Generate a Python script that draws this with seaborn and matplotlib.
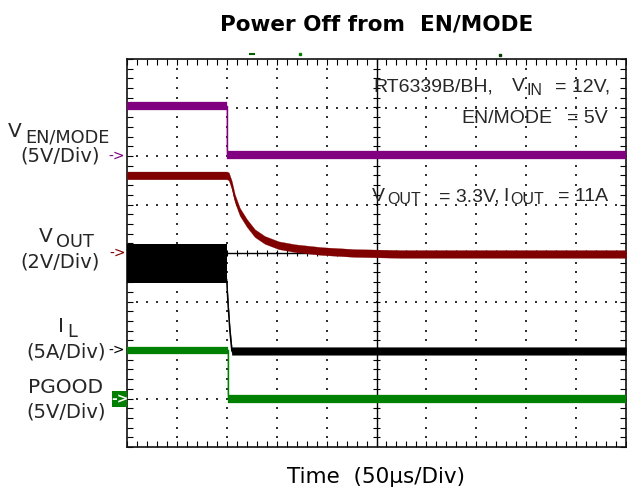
import numpy as np
import matplotlib
matplotlib.use("Agg")
import matplotlib.pyplot as plt
import seaborn as sns
from matplotlib.ticker import MultipleLocator
from matplotlib.patches import Rectangle

# ---------------- data (oscilloscope divisions) ----------------
en_t = [0.0, 2.0, 2.0, 10.0]
en_v = [7.03, 7.03, 6.02, 6.02]

vout_t = [0.0, 2.0, 2.04, 2.1, 2.16, 2.26, 2.4, 2.56, 2.76, 3.04, 3.36, 3.9, 4.56, 5.5, 10.0]
vout_v = [5.6, 5.6, 5.58, 5.40, 5.13, 4.85, 4.62, 4.41, 4.27, 4.16, 4.10, 4.04, 4.0, 3.98, 3.98]

il_ripple_t = [0.0, 2.0]
il_ripple_lo = [3.38, 3.38]
il_ripple_hi = [4.19, 4.19]
il_t = [2.0, 2.02, 2.06, 2.1, 10.0]
il_v = [3.4, 3.0, 2.4, 1.98, 1.98]

pg_t = [0.0, 2.02, 2.02, 10.0]
pg_v = [1.99, 1.99, 0.99, 0.99]

title = "Power Off from  EN/MODE"
xlabel = "Time  (50\u03bcs/Div)"

PURPLE = "#800080"
DARKRED = "#800000"
GREEN = "#008000"
BLACK = "#000000"

W, H = 627, 494
sns.set_theme(style="white")
plt.rcParams["font.family"] = ["DejaVu Sans"]

fig = plt.figure(figsize=(W / 100, H / 100), dpi=100)
ax = fig.add_axes([127 / W, 47 / H, 499 / W, 388 / H])
ax.set_xlim(0, 10)
ax.set_ylim(0, 8)


def FX(px):
    return px / W


def FY(py):
    return 1 - py / H


# ---------------- graticule ----------------
for s in ax.spines.values():
    s.set_color("#111111")
    s.set_linewidth(1.2)
ax.xaxis.set_major_locator(MultipleLocator(1))
ax.yaxis.set_major_locator(MultipleLocator(1))
ax.xaxis.set_minor_locator(MultipleLocator(0.2))
ax.yaxis.set_minor_locator(MultipleLocator(0.2))
ax.tick_params(which="both", direction="in", length=4, width=0.8, color="black",
               top=True, right=True, bottom=True, left=True,
               labelbottom=False, labelleft=False)
ax.set_xlabel("")
ax.set_ylabel("")

fine = np.arange(0.2, 10.0, 0.2)
finey = np.arange(0.2, 8.0, 0.2)
gx, gy = [], []
for x in range(1, 10):
    if x == 5:
        continue
    gx += [x] * len(finey)
    gy += list(finey)
for y in range(1, 8):
    if y == 4:
        continue
    gx += list(fine)
    gy += [y] * len(fine)
ax.scatter(gx, gy, s=1.2, marker="s", color="#333333", linewidths=0, zorder=1)

ax.axvline(5, color="black", lw=1, zorder=1)
ax.axhline(4, color="black", lw=1, zorder=1)
ax.vlines(fine, 4 - 0.07, 4 + 0.07, color="black", lw=0.8, zorder=1)
ax.hlines(finey, 5 - 0.07, 5 + 0.07, color="black", lw=0.8, zorder=1)

# ---------------- traces ----------------
HB = 0.08


def trace(t, v, color):
    t = np.asarray(t, float)
    v = np.asarray(v, float)
    sns.lineplot(x=t, y=v, sort=False, estimator=None, color=color, lw=1.0, ax=ax, zorder=3)
    ax.fill_between(t, v - HB, v + HB, color=color, lw=0.2, edgecolor=color, zorder=3)


trace(en_t, en_v, PURPLE)
trace(vout_t, vout_v, DARKRED)
ax.fill_between(il_ripple_t, il_ripple_lo, il_ripple_hi, color=BLACK, lw=0, zorder=3)
trace(il_t, il_v, BLACK)
trace(pg_t, pg_v, GREEN)

# small trigger markers above the frame
ax.plot([2.5], [8.1], marker="_", ms=4, mew=1.5, color="#006000", clip_on=False)
ax.plot([3.46], [8.1], marker="s", ms=1.5, color=GREEN, clip_on=False)
ax.plot([7.48], [8.08], marker="s", ms=2, color="#004000", clip_on=False)

# ---------------- texts ----------------
fig.text(FX(377), FY(30), title, ha="center", va="baseline", fontsize=15.5,
         fontweight="bold", color="black")
fig.text(FX(376), FY(483), xlabel, ha="center", va="baseline", fontsize=15.5, color="black")

# left channel labels
fig.text(FX(8), FY(137), "V", fontsize=14.5, va="baseline", ha="left")
fig.text(FX(25), FY(142), "EN/MODE", fontsize=12.8, va="baseline", ha="left")
fig.text(FX(60), FY(162), "(5V/Div)", fontsize=14, va="baseline", ha="center")

fig.text(FX(39), FY(242), "V", fontsize=14.5, va="baseline", ha="left")
fig.text(FX(56), FY(247), "OUT", fontsize=12.8, va="baseline", ha="left")
fig.text(FX(60), FY(267), "(2V/Div)", fontsize=14, va="baseline", ha="center")

fig.text(FX(58), FY(332), "I", fontsize=14.5, va="baseline", ha="left")
fig.text(FX(67.5), FY(337), "L", fontsize=12.8, va="baseline", ha="left")
fig.text(FX(66), FY(357), "(5A/Div)", fontsize=14, va="baseline", ha="center")

fig.text(FX(66), FY(393), "PGOOD", fontsize=14.5, va="baseline", ha="center")
fig.text(FX(66), FY(417), "(5V/Div)", fontsize=14, va="baseline", ha="center")

# channel reference arrows
fig.text(FX(117), FY(156), "->", fontsize=10, color=PURPLE, ha="center", va="center")
fig.text(FX(118), FY(253), "->", fontsize=10, color=DARKRED, ha="center", va="center")
fig.text(FX(117), FY(350), "->", fontsize=10, color=BLACK, ha="center", va="center")
fig.patches.append(Rectangle((FX(112), FY(407)), 15 / W, 16 / H, transform=fig.transFigure,
                             facecolor=GREEN, edgecolor="none", figure=fig))
fig.text(FX(119.5), FY(399), "->", fontsize=10, color="white", ha="center", va="center",
         fontweight="bold")

# in-plot annotations
AF = ["Liberation Sans", "DejaVu Sans"]
fig.text(FX(373), FY(91), "RT6339B/BH,", family=AF, fontsize=14, va="baseline", ha="left")
fig.text(FX(512), FY(91), "V", family=AF, fontsize=14, va="baseline", ha="left")
fig.text(FX(526), FY(95), "IN", family=AF, fontsize=11.5, va="baseline", ha="left")
fig.text(FX(610), FY(91), "= 12V,", family=AF, fontsize=14, va="baseline", ha="right")
fig.text(FX(461), FY(123), "EN/MODE", family=AF, fontsize=14, va="baseline", ha="left")
fig.text(FX(608), FY(123), "= 5V", family=AF, fontsize=14, va="baseline", ha="right")

fig.text(FX(372), FY(201), "V", family=AF, fontsize=14, va="baseline", ha="left")
fig.text(FX(387), FY(204), "OUT", family=AF, fontsize=11.5, va="baseline", ha="left")
fig.text(FX(439), FY(201), "= 3.3V,", family=AF, fontsize=14, va="baseline", ha="left")
fig.text(FX(503), FY(201), "I", family=AF, fontsize=14, va="baseline", ha="left")
fig.text(FX(510), FY(204), "OUT", family=AF, fontsize=11.5, va="baseline", ha="left")
fig.text(FX(608), FY(201), "= 11A", family=AF, fontsize=14, va="baseline", ha="right")

fig.savefig("out.png", dpi=100)
